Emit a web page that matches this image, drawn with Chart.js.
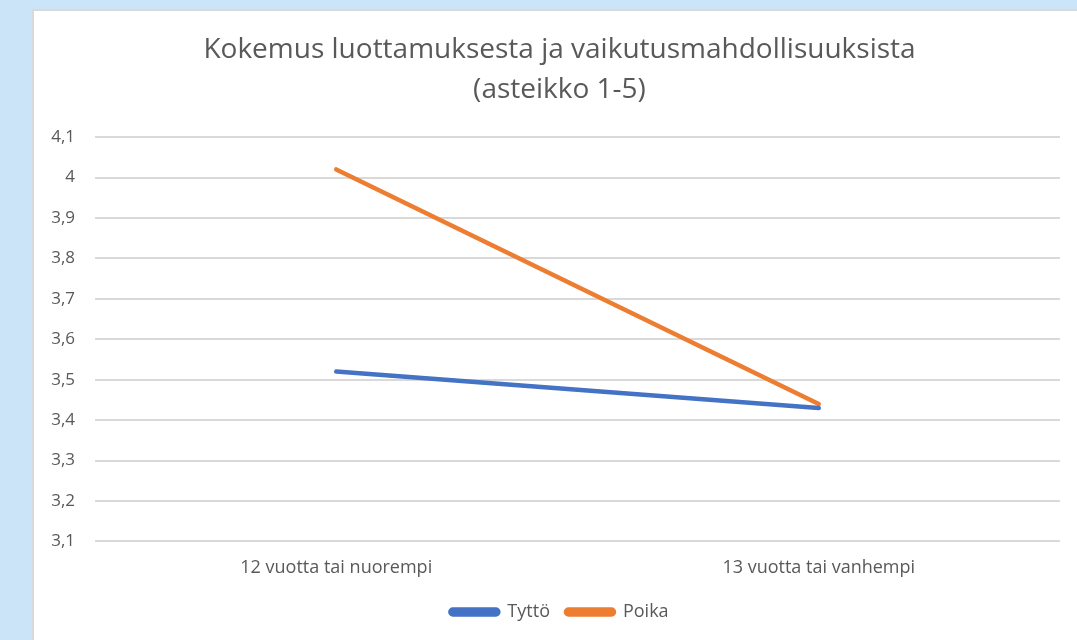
<!DOCTYPE html>
<html>
<head>
<meta charset="utf-8">
<script src="https://cdn.jsdelivr.net/npm/chart.js@4.4.0/dist/chart.umd.min.js"></script>
<style>
    html, body { margin: 0; padding: 0; }
    body { background: #cce4f7; width: 1077px; height: 640px; overflow: hidden; position: relative; }
    .panel {
        position: absolute;
        left: 32px;
        top: 9px;
        width: 1043px;
        height: 629px;
        background: #fff;
        border-left: 2px solid #d9d9d9;
        border-top: 2px solid #d9d9d9;
    }
</style>
</head>
<body>
<div class="panel">
    <canvas id="chart" width="1043" height="629"></canvas>
</div>
<script>
// Chart data
const titleLines = ['Kokemus luottamuksesta ja vaikutusmahdollisuuksista', '(asteikko 1-5)'];
const categories = ['12 vuotta tai nuorempi', '13 vuotta tai vanhempi'];
const seriesNames = ['Tyttö', 'Poika'];
const tyttoValues = [3.52, 3.43];
const poikaValues = [4.02, 3.44];
const yMin = 3.1;
const yMax = 4.1;
const yStep = 0.1;

const textColor = '#595959';
const fontFamily = '"Open Sans", "DejaVu Sans", sans-serif';

// Excel centres title and legend on the whole frame, nudge them a bit right
const centreBoxes = {
    id: 'centreBoxes',
    afterLayout(chart) {
        const dx = 12.5;
        [chart.titleBlock, chart.legend].forEach(box => {
            if (box) {
                box.left += dx;
                box.right += dx;
            }
        });
    }
};

new Chart(document.getElementById('chart'), {
    type: 'line',
    data: {
        labels: categories,
        datasets: [{
            label: seriesNames[0],
            data: tyttoValues,
            borderColor: '#4472c4',
            backgroundColor: '#4472c4',
            borderWidth: 4.5,
            pointRadius: 0,
            borderCapStyle: 'round',
            tension: 0
        }, {
            label: seriesNames[1],
            data: poikaValues,
            borderColor: '#ed7d31',
            backgroundColor: '#ed7d31',
            borderWidth: 4.5,
            pointRadius: 0,
            borderCapStyle: 'round',
            tension: 0
        }]
    },
    options: {
        responsive: false,
        animation: false,
        layout: {
            padding: { top: 19, right: 17, bottom: 9, left: 0 }
        },
        plugins: {
            title: {
                display: true,
                text: titleLines,
                color: textColor,
                font: { family: fontFamily, size: 28, weight: 'normal', lineHeight: 1.43 },
                padding: { top: 0, bottom: 27 }
            },
            legend: {
                position: 'bottom',
                labels: {
                    color: textColor,
                    font: { family: fontFamily, size: 18 },
                    boxWidth: 48,
                    boxHeight: 5,
                    useBorderRadius: true,
                    borderRadius: 2.5,
                    padding: 16
                }
            },
            tooltip: { enabled: false }
        },
        scales: {
            x: {
                offset: true,
                grid: { display: false },
                border: { display: false },
                ticks: {
                    color: textColor,
                    font: { family: fontFamily, size: 18 },
                    padding: 8
                }
            },
            y: {
                min: yMin,
                max: yMax,
                afterFit: (scale) => { scale.width = 61; },
                grid: { color: '#d9d9d9', lineWidth: 2, drawTicks: false },
                border: { display: false },
                ticks: {
                    stepSize: yStep,
                    color: textColor,
                    font: { family: fontFamily, size: 17 },
                    padding: 20,
                    callback: (v) => String(Number(v.toFixed(1))).replace('.', ',')
                }
            }
        }
    },
    plugins: [centreBoxes]
});
</script>
</body>
</html>
